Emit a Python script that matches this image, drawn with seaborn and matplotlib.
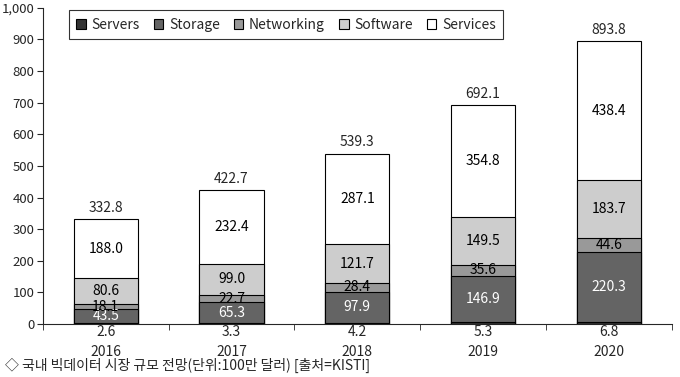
import numpy as np
import pandas as pd
import matplotlib
matplotlib.use('Agg')
import matplotlib.pyplot as plt
import seaborn as sns
from matplotlib.patches import Patch
from matplotlib.ticker import FuncFormatter, FixedLocator

# 데이터 (단위: 100만 달러)
years = ['2016', '2017', '2018', '2019', '2020']
servers = [2.6, 3.3, 4.2, 5.3, 6.8]
storage = [43.5, 65.3, 97.9, 146.9, 220.3]
networking = [18.1, 22.7, 28.4, 35.6, 44.6]
software = [80.6, 99.0, 121.7, 149.5, 183.7]
services = [188.0, 232.4, 287.1, 354.8, 438.4]
totals = [332.8, 422.7, 539.3, 692.1, 893.8]

series_names = ['Servers', 'Storage', 'Networking', 'Software', 'Services']
series_vals = [servers, storage, networking, software, services]
colors = ['#333333', '#646464', '#999999', '#cdcdcd', '#ffffff']
text_colors = ['black', 'white', 'black', 'black', 'black']

sns.set_style('ticks')
plt.rcParams['font.family'] = ['Noto Sans CJK KR', 'DejaVu Sans']

fig = plt.figure(figsize=(6.8, 3.77), dpi=100)
ax = fig.add_axes([0.063, 0.1406, 0.925, 0.8385])

# 누적합 -> 큰 것부터 덮어 그리기
cum = np.cumsum(np.array(series_vals), axis=0)
for i in range(len(series_names) - 1, -1, -1):
    df = pd.DataFrame({'year': years, 'value': cum[i]})
    sns.barplot(data=df, x='year', y='value', color=colors[i], saturation=1,
                edgecolor='black', linewidth=0.8, width=0.51, errorbar=None, ax=ax)

# 구간 라벨
for j in range(len(years)):
    for i in range(1, len(series_names)):
        bottom = cum[i - 1][j]
        v = series_vals[i][j]
        ax.text(j, bottom + v / 2, f'{v:.1f}', ha='center', va='center',
                fontsize=10, color=text_colors[i])
    ax.annotate(f'{servers[j]:.1f}', xy=(j, 0), xytext=(0, -1), textcoords='offset points',
                ha='center', va='top', fontsize=10)
    ax.annotate(f'{totals[j]:.1f}', xy=(j, cum[-1][j]), xytext=(0, 3), textcoords='offset points',
                ha='center', va='bottom', fontsize=10)

ax.set_ylim(0, 1000)
ax.set_xlim(-0.5, 4.5)
ax.set_yticks(np.arange(0, 1001, 100))
ax.yaxis.set_major_formatter(FuncFormatter(lambda v, p: f'{int(v):,}'))
ax.xaxis.set_minor_locator(FixedLocator(np.arange(-0.5, 5, 1)))
ax.tick_params(axis='x', which='major', length=0, pad=15, labelsize=10)
ax.tick_params(axis='x', which='minor', length=4, direction='out')
ax.tick_params(axis='y', length=4, direction='out', labelsize=9.5, pad=2)
ax.set_xlabel('')
ax.set_ylabel('')
sns.despine(ax=ax)

handles = [Patch(facecolor=c, edgecolor='black', linewidth=0.8, label=n)
           for c, n in zip(colors, series_names)]
leg = ax.legend(handles=handles, ncol=5, loc='upper left', bbox_to_anchor=(0.03, 1.015),
                fontsize=10, frameon=True, fancybox=False, handlelength=0.7,
                handleheight=0.7, handletextpad=0.4, columnspacing=1.0,
                borderpad=0.55, edgecolor='black')
leg.get_frame().set_linewidth(0.8)

fig.text(0.008, 0.032, '◇ 국내 빅데이터 시장 규모 전망(단위:100만 달러) [출처=KISTI]',
         ha='left', va='center', fontsize=10)

fig.savefig('out.png', dpi=100)
